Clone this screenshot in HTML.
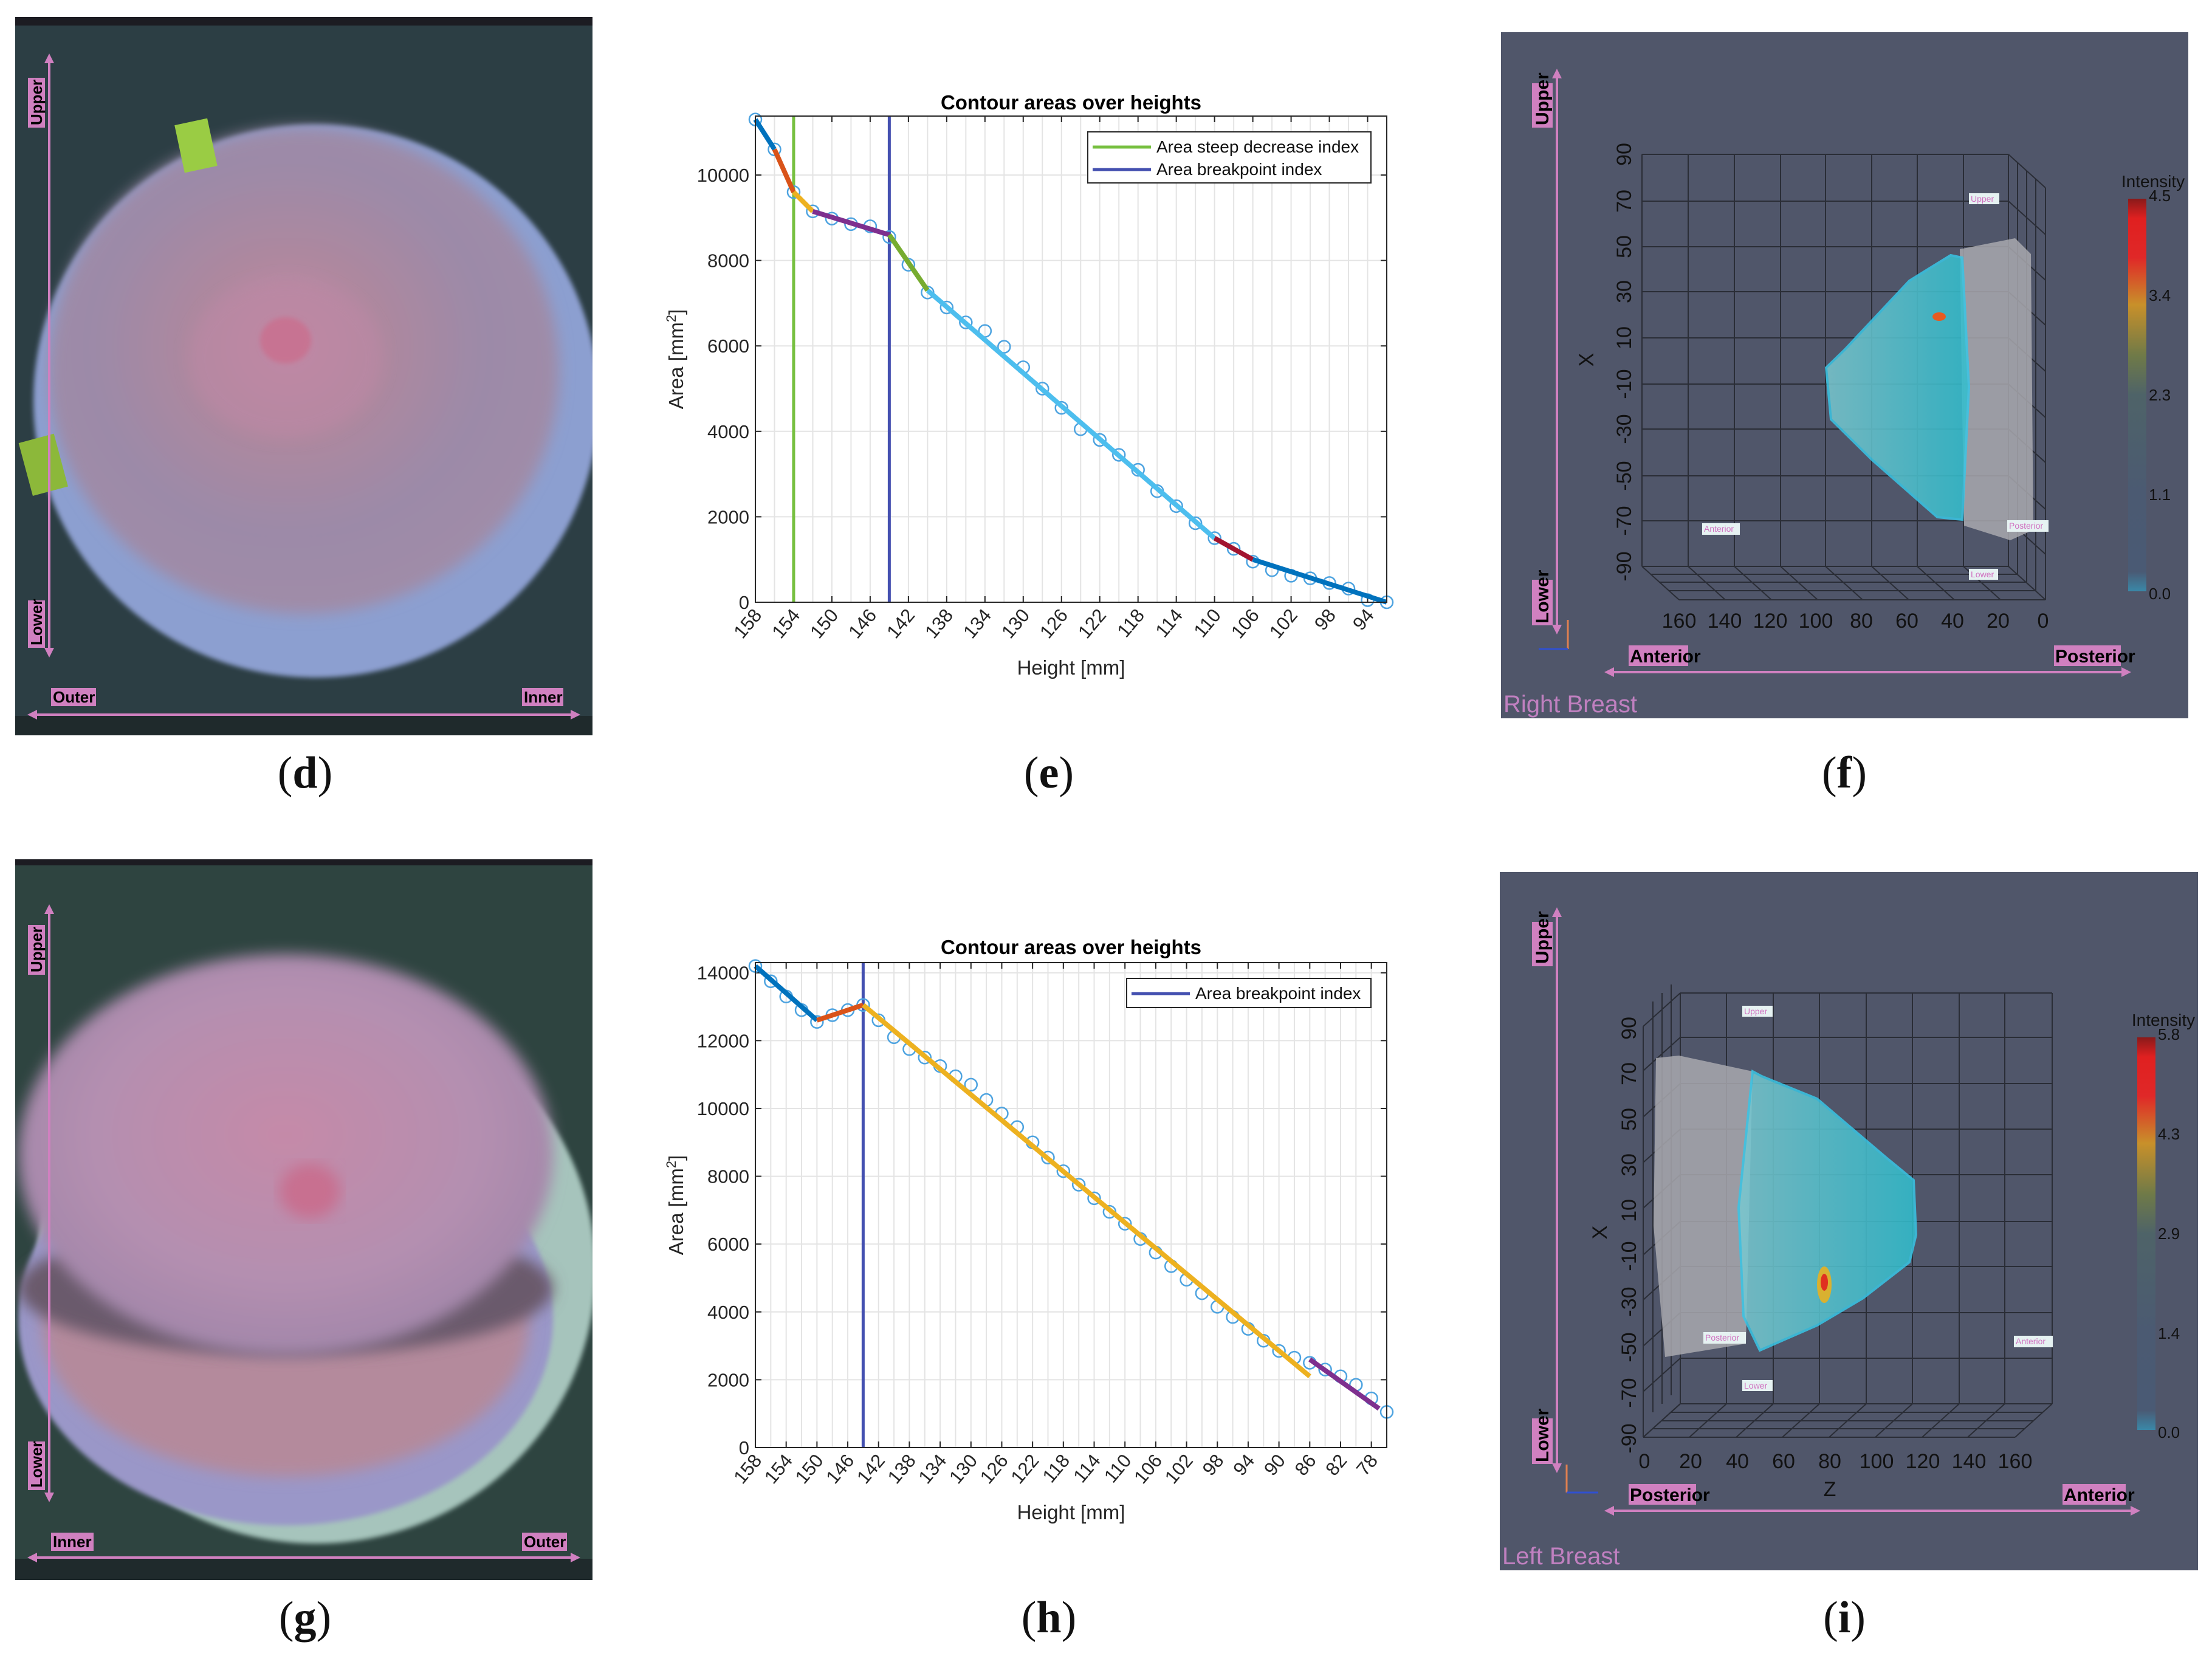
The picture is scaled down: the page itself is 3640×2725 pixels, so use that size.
<!DOCTYPE html>
<html><head><meta charset="utf-8"><style>
html,body{margin:0;padding:0;background:#fff;}
svg{display:block;font-family:"Liberation Sans",sans-serif;}
</style></head><body>
<svg id="root" width="3640" height="2725" viewBox="0 0 3640 2725" xmlns="http://www.w3.org/2000/svg">
<defs>
<radialGradient id="gD" cx="0.47" cy="0.45" r="0.55"><stop offset="0" stop-color="#c98aa6"/><stop offset="0.35" stop-color="#ad889f"/><stop offset="0.7" stop-color="#9c8aa8"/><stop offset="1" stop-color="#a08ca8"/></radialGradient>
<radialGradient id="gG" cx="0.5" cy="0.45" r="0.6"><stop offset="0" stop-color="#c58aa8"/><stop offset="0.6" stop-color="#b48fb0"/><stop offset="1" stop-color="#9d84a8"/></radialGradient>
<linearGradient id="cb" x1="0" y1="0" x2="0" y2="1"><stop offset="0" stop-color="#8a1a1a"/><stop offset="0.05" stop-color="#e02020"/><stop offset="0.15" stop-color="#e02828"/><stop offset="0.27" stop-color="#c8902a"/><stop offset="0.4" stop-color="#6f7a48"/><stop offset="0.5" stop-color="#4e6368"/><stop offset="0.75" stop-color="#4b5a72"/><stop offset="0.95" stop-color="#4a5a74"/><stop offset="1" stop-color="#3a88a8"/></linearGradient>
<linearGradient id="cy" x1="0" y1="0" x2="1" y2="0"><stop offset="0" stop-color="#7ac8d0"/><stop offset="1" stop-color="#30c0d0"/></linearGradient>
<filter id="bl"><feGaussianBlur stdDeviation="12"/></filter>
<filter id="bl2"><feGaussianBlur stdDeviation="4"/></filter>
<clipPath id="clipD"><rect x="25" y="28" width="950" height="1182"/></clipPath>
<clipPath id="clipG"><rect x="25" y="1414" width="950" height="1186"/></clipPath>
</defs>

<!-- Panel d -->
<g clip-path="url(#clipD)">
<rect x="25" y="28" width="950" height="1182" fill="#2c3e44"/>
<rect x="25" y="28" width="950" height="14" fill="#1c1c22"/>
<rect x="25" y="1178" width="950" height="32" fill="#1f2a2c"/>
<ellipse cx="520" cy="660" rx="465" ry="455" fill="#8c9fd0" filter="url(#bl2)"/>
<ellipse cx="500" cy="610" rx="420" ry="400" fill="url(#gD)" filter="url(#bl)"/>
<ellipse cx="470" cy="590" rx="160" ry="130" fill="#bb88a4" opacity="0.6" filter="url(#bl)"/>
<ellipse cx="470" cy="560" rx="42" ry="38" fill="#c77392" filter="url(#bl2)"/>
<rect x="295" y="200" width="55" height="80" fill="#9acc44" transform="rotate(-12 320 240)"/>
<rect x="40" y="720" width="60" height="90" fill="#8cb83a" transform="rotate(-15 70 760)"/>
</g>
<g font-weight="bold" font-size="26">
<line x1="81" y1="100" x2="81" y2="1070" stroke="#d080c0" stroke-width="4"/>
<polygon points="81,88 73,104 89,104" fill="#d080c0"/><polygon points="81,1082 73,1066 89,1066" fill="#d080c0"/>
<line x1="55" y1="1176" x2="945" y2="1176" stroke="#d080c0" stroke-width="4"/>
<polygon points="45,1176 61,1168 61,1184" fill="#d080c0"/><polygon points="955,1176 939,1168 939,1184" fill="#d080c0"/>
<rect x="46" y="128" width="28" height="82" fill="#d080c0"/><text transform="translate(69 206) rotate(-90)">Upper</text>
<rect x="46" y="988" width="28" height="78" fill="#d080c0"/><text transform="translate(69 1062) rotate(-90)">Lower</text>
<rect x="84" y="1132" width="74" height="30" fill="#d080c0"/><text x="87" y="1156">Outer</text>
<rect x="859" y="1132" width="68" height="30" fill="#d080c0"/><text x="862" y="1156">Inner</text>
</g>

<!-- Panel g -->
<g clip-path="url(#clipG)">
<rect x="25" y="1414" width="950" height="1186" fill="#2e4440"/>
<rect x="25" y="1414" width="950" height="10" fill="#1c1c22"/>
<rect x="25" y="2565" width="950" height="35" fill="#1f2a2c"/>
<ellipse cx="520" cy="2090" rx="460" ry="450" fill="#a6c4bc" filter="url(#bl2)"/>
<ellipse cx="470" cy="2170" rx="440" ry="340" fill="#9a97c8" filter="url(#bl2)"/>
<ellipse cx="470" cy="2180" rx="400" ry="250" fill="#b48a9c" filter="url(#bl)"/>
<ellipse cx="470" cy="2120" rx="440" ry="110" fill="#6a5a6c" filter="url(#bl)"/>
<ellipse cx="470" cy="1900" rx="440" ry="330" fill="url(#gG)" filter="url(#bl)"/>
<ellipse cx="510" cy="1960" rx="50" ry="45" fill="#c87090" filter="url(#bl)"/>
</g>
<g font-weight="bold" font-size="26">
<line x1="81" y1="1500" x2="81" y2="2460" stroke="#d080c0" stroke-width="4"/>
<polygon points="81,1488 73,1504 89,1504" fill="#d080c0"/><polygon points="81,2472 73,2456 89,2456" fill="#d080c0"/>
<line x1="55" y1="2563" x2="945" y2="2563" stroke="#d080c0" stroke-width="4"/>
<polygon points="45,2563 61,2555 61,2571" fill="#d080c0"/><polygon points="955,2563 939,2555 939,2571" fill="#d080c0"/>
<rect x="46" y="1522" width="28" height="82" fill="#d080c0"/><text transform="translate(69 1600) rotate(-90)">Upper</text>
<rect x="46" y="2372" width="28" height="80" fill="#d080c0"/><text transform="translate(69 2448) rotate(-90)">Lower</text>
<rect x="84" y="2522" width="70" height="30" fill="#d080c0"/><text x="87" y="2546">Inner</text>
<rect x="859" y="2522" width="74" height="30" fill="#d080c0"/><text x="862" y="2546">Outer</text>
</g>

<!-- Panel f -->
<g>
<rect x="2470" y="53" width="1131" height="1129" fill="#50566a"/>
<g stroke="#2a2d36" stroke-width="2" fill="none">
<path d="M2702 254V932M2778 254V932M2854 254V932M2930 254V932M3004 254V932M3080 254V932M3155 254V932M3231 254V932M3305 254V932"/>
<path d="M2702 254H3305M2702 331H3305M2702 406H3305M2702 480H3305M2702 556H3305M2702 632H3305M2702 706H3305M2702 783H3305M2702 857H3305M2702 932H3305"/>
<path d="M3305 254L3366 309M3305 331L3366 386M3305 406L3366 461M3305 480L3366 535M3305 556L3366 611M3305 632L3366 687M3305 706L3366 761M3305 783L3366 838M3305 857L3366 912M3305 932L3366 987M3366 309V987M3320 268V946M3335 281V960M3350 295V973"/>
<path d="M2702 932L2763 987M2778 932L2839 987M2854 932L2915 987M2930 932L2991 987M3004 932L3065 987M3080 932L3141 987M3155 932L3216 987M3231 932L3292 987M2763 987H3366M2716 945H3319M2730 958H3333M2745 972H3348"/>
</g>
<polygon points="3225,410 3316,392 3342,418 3346,872 3308,889 3232,865" fill="#a8a8ae" opacity="0.85"/>
<polygon points="3005,605 3036,575 3142,462 3210,420 3229,424 3240,637 3229,855 3188,851 3081,757 3013,690" fill="url(#cy)" opacity="0.85" stroke="#39c6e6" stroke-width="4"/>
<ellipse cx="3191" cy="521" rx="11" ry="7" fill="#e85a20"/>
<g font-size="34" fill="#111">
<text x="2763" y="1033" text-anchor="middle">160</text><text x="2838" y="1033" text-anchor="middle">140</text><text x="2913" y="1033" text-anchor="middle">120</text><text x="2988" y="1033" text-anchor="middle">100</text><text x="3063" y="1033" text-anchor="middle">80</text><text x="3138" y="1033" text-anchor="middle">60</text><text x="3213" y="1033" text-anchor="middle">40</text><text x="3288" y="1033" text-anchor="middle">20</text><text x="3362" y="1033" text-anchor="middle">0</text>
<g text-anchor="middle">
<text transform="translate(2684 254) rotate(-90)">90</text><text transform="translate(2684 331) rotate(-90)">70</text><text transform="translate(2684 406) rotate(-90)">50</text><text transform="translate(2684 480) rotate(-90)">30</text><text transform="translate(2684 556) rotate(-90)">10</text><text transform="translate(2684 632) rotate(-90)">-10</text><text transform="translate(2684 706) rotate(-90)">-30</text><text transform="translate(2684 783) rotate(-90)">-50</text><text transform="translate(2684 857) rotate(-90)">-70</text><text transform="translate(2684 932) rotate(-90)">-90</text>
</g>
<text transform="translate(2622 592) rotate(-90)" text-anchor="middle">X</text>
</g>
<g font-size="14" fill="#d070c0">
<rect x="3240" y="318" width="50" height="18" fill="#e6f2f2"/><text x="3243" y="332">Upper</text>
<rect x="2801" y="861" width="62" height="19" fill="#e6f2f2"/><text x="2804" y="875">Anterior</text>
<rect x="3303" y="856" width="68" height="19" fill="#e6f2f2"/><text x="3306" y="870">Posterior</text>
<rect x="3240" y="936" width="48" height="18" fill="#e6f2f2"/><text x="3243" y="950">Lower</text>
</g>
<rect x="3502" y="327" width="30" height="646" fill="url(#cb)"/>
<g font-size="26" fill="#111"><text x="3543" y="308" text-anchor="middle" font-size="28">Intensity</text>
<text x="3536" y="331">4.5</text><text x="3536" y="495">3.4</text><text x="3536" y="659">2.3</text><text x="3536" y="823">1.1</text><text x="3536" y="986">0.0</text></g>
<g font-weight="bold" font-size="30">
<line x1="2562" y1="125" x2="2562" y2="1032" stroke="#d080c0" stroke-width="4"/>
<polygon points="2562,113 2554,129 2570,129" fill="#d080c0"/><polygon points="2562,1044 2554,1028 2570,1028" fill="#d080c0"/>
<rect x="2521" y="137" width="34" height="73" fill="#d080c0"/><text transform="translate(2548 206) rotate(-90)">Upper</text>
<rect x="2521" y="954" width="34" height="75" fill="#d080c0"/><text transform="translate(2548 1026) rotate(-90)">Lower</text>
<line x1="2652" y1="1106" x2="3495" y2="1106" stroke="#d080c0" stroke-width="4"/>
<polygon points="2640,1106 2656,1098 2656,1114" fill="#d080c0"/><polygon points="3507,1106 3491,1098 3491,1114" fill="#d080c0"/>
<rect x="2680" y="1062" width="98" height="34" fill="#d080c0"/><text x="2682" y="1090">Anterior</text>
<rect x="3380" y="1062" width="110" height="34" fill="#d080c0"/><text x="3382" y="1090">Posterior</text>
</g>
<g stroke-width="3"><line x1="2580" y1="1068" x2="2580" y2="1020" stroke="#e08050"/><line x1="2580" y1="1068" x2="2532" y2="1068" stroke="#3050d0"/></g>
<text x="2474" y="1172" font-size="40" fill="#c080c0">Right Breast</text>
</g>

<!-- Panel i -->
<g>
<rect x="2468" y="1435" width="1149" height="1149" fill="#50566a"/>
<g stroke="#2a2d36" stroke-width="2" fill="none">
<path d="M2765 1634V2310M2841 1634V2310M2918 1634V2310M2994 1634V2310M3071 1634V2310M3147 1634V2310M3224 1634V2310M3299 1634V2310M3377 1634V2310"/>
<path d="M2765 1634H3377M2765 1707H3377M2765 1783H3377M2765 1858H3377M2765 1933H3377M2765 2010H3377M2765 2084H3377M2765 2160H3377M2765 2235H3377M2765 2310H3377"/>
<path d="M2765 1634L2704 1689M2765 1707L2704 1762M2765 1783L2704 1838M2765 1858L2704 1913M2765 1933L2704 1988M2765 2010L2704 2065M2765 2084L2704 2139M2765 2160L2704 2215M2765 2235L2704 2290M2765 2310L2704 2365M2704 1689V2365M2750 1620V2296M2735 1634V2310M2720 1648V2324"/>
<path d="M2765 2310L2704 2365M2841 2310L2780 2365M2918 2310L2857 2365M2994 2310L2933 2365M3071 2310L3010 2365M3147 2310L3086 2365M3224 2310L3163 2365M3299 2310L3238 2365M3377 2310L3316 2365M2704 2365H3316M2750 2324H3362M2735 2338H3347M2720 2351H3332"/>
</g>
<polygon points="2725,1741 2763,1737 2884,1763 2873,2211 2740,2233 2721,2017" fill="#a8a8ae" opacity="0.85"/>
<polygon points="2884,1763 2899,1771 2990,1808 3104,1905 3149,1942 3153,2032 3142,2077 3066,2136 2990,2181 2896,2222 2869,2166 2861,1987" fill="url(#cy)" opacity="0.85" stroke="#39c6e6" stroke-width="4"/>
<ellipse cx="3002" cy="2114" rx="12" ry="30" fill="#e8b020" opacity="0.9"/>
<ellipse cx="3002" cy="2110" rx="6" ry="14" fill="#e03020"/>
<g font-size="34" fill="#111">
<text x="2706" y="2416" text-anchor="middle">0</text><text x="2782" y="2416" text-anchor="middle">20</text><text x="2859" y="2416" text-anchor="middle">40</text><text x="2935" y="2416" text-anchor="middle">60</text><text x="3011" y="2416" text-anchor="middle">80</text><text x="3088" y="2416" text-anchor="middle">100</text><text x="3164" y="2416" text-anchor="middle">120</text><text x="3240" y="2416" text-anchor="middle">140</text><text x="3316" y="2416" text-anchor="middle">160</text>
<g text-anchor="middle">
<text transform="translate(2692 1692) rotate(-90)">90</text><text transform="translate(2692 1767) rotate(-90)">70</text><text transform="translate(2692 1842) rotate(-90)">50</text><text transform="translate(2692 1917) rotate(-90)">30</text><text transform="translate(2692 1992) rotate(-90)">10</text><text transform="translate(2692 2067) rotate(-90)">-10</text><text transform="translate(2692 2142) rotate(-90)">-30</text><text transform="translate(2692 2217) rotate(-90)">-50</text><text transform="translate(2692 2292) rotate(-90)">-70</text><text transform="translate(2692 2367) rotate(-90)">-90</text>
</g>
<text transform="translate(2644 2028) rotate(-90)" text-anchor="middle">X</text>
<text x="3011" y="2462" text-anchor="middle">Z</text>
</g>
<g font-size="14" fill="#d070c0">
<rect x="2867" y="1655" width="50" height="18" fill="#e6f2f2"/><text x="2870" y="1669">Upper</text>
<rect x="2803" y="2192" width="70" height="19" fill="#e6f2f2"/><text x="2806" y="2206">Posterior</text>
<rect x="3314" y="2198" width="64" height="19" fill="#e6f2f2"/><text x="3317" y="2212">Anterior</text>
<rect x="2867" y="2271" width="50" height="18" fill="#e6f2f2"/><text x="2870" y="2285">Lower</text>
</g>
<rect x="3517" y="1707" width="30" height="646" fill="url(#cb)"/>
<g font-size="26" fill="#111"><text x="3560" y="1688" text-anchor="middle" font-size="28">Intensity</text>
<text x="3551" y="1711">5.8</text><text x="3551" y="1875">4.3</text><text x="3551" y="2039">2.9</text><text x="3551" y="2203">1.4</text><text x="3551" y="2366">0.0</text></g>
<g font-weight="bold" font-size="30">
<line x1="2562" y1="1505" x2="2562" y2="2412" stroke="#d080c0" stroke-width="4"/>
<polygon points="2562,1493 2554,1509 2570,1509" fill="#d080c0"/><polygon points="2562,2424 2554,2408 2570,2408" fill="#d080c0"/>
<rect x="2521" y="1517" width="34" height="73" fill="#d080c0"/><text transform="translate(2548 1586) rotate(-90)">Upper</text>
<rect x="2521" y="2334" width="34" height="75" fill="#d080c0"/><text transform="translate(2548 2406) rotate(-90)">Lower</text>
<line x1="2652" y1="2486" x2="3510" y2="2486" stroke="#d080c0" stroke-width="4"/>
<polygon points="2640,2486 2656,2478 2656,2494" fill="#d080c0"/><polygon points="3522,2486 3506,2478 3506,2494" fill="#d080c0"/>
<rect x="2680" y="2442" width="111" height="34" fill="#d080c0"/><text x="2682" y="2470">Posterior</text>
<rect x="3394" y="2442" width="104" height="34" fill="#d080c0"/><text x="3396" y="2470">Anterior</text>
</g>
<g stroke-width="3"><line x1="2578" y1="2456" x2="2578" y2="2410" stroke="#e08050"/><line x1="2578" y1="2456" x2="2630" y2="2456" stroke="#3050d0"/></g>
<text x="2472" y="2574" font-size="40" fill="#c080c0">Left Breast</text>
</g>

<!-- Captions -->
<g font-family="Liberation Serif, serif" font-size="74" text-anchor="middle" fill="#111">
<text x="502" y="1296">(<tspan font-weight="bold">d</tspan>)</text>
<text x="1726" y="1296">(<tspan font-weight="bold">e</tspan>)</text>
<text x="3035" y="1296">(<tspan font-weight="bold">f</tspan>)</text>
<text x="502" y="2686">(<tspan font-weight="bold">g</tspan>)</text>
<text x="1726" y="2686">(<tspan font-weight="bold">h</tspan>)</text>
<text x="3035" y="2686">(<tspan font-weight="bold">i</tspan>)</text>
</g>

<g id="chartE"></g>
<g id="chartH"></g>
</svg>
<script>
// ----- Chart (e) data -----
const eHeights = [158,156,154,152,150,148,146,144,142,140,138,136,134,132,130,128,126,124,122,120,118,116,114,112,110,108,106,104,102,100,98,96,94,92];
const eAreas = [11300,10600,9600,9150,8980,8850,8800,8550,7900,7250,6900,6550,6350,5980,5500,5000,4550,4050,3800,3450,3100,2600,2250,1850,1500,1250,950,750,620,560,450,320,50,0];
const eSegX0 = [158,156,154,152,144,140,110,106];
const eSegX1 = [156,154,152,144,140,110,106,92];
const eSegY0 = [11300,10600,9600,9150,8600,7300,1500,1000];
const eSegY1 = [10600,9600,9150,8600,7300,1500,1000,0];
const eSegColors = ['#0072BD','#D95319','#EDB120','#7E2F8E','#77AC30','#4DBEEE','#A2142F','#0072BD'];
const eXTicks = [158,154,150,146,142,138,134,130,126,122,118,114,110,106,102,98,94];
const eYTicks = [0,2000,4000,6000,8000,10000];
const eVLines = [154,144];
const eVLineColors = ['#77C040','#4450B0'];
const eLegendLabels = ['Area steep decrease index','Area breakpoint index'];
// ----- Chart (h) data -----
const hHeights = [158,156,154,152,150,148,146,144,142,140,138,136,134,132,130,128,126,124,122,120,118,116,114,112,110,108,106,104,102,100,98,96,94,92,90,88,86,84,82,80,78,76];
const hAreas = [14200,13750,13300,12900,12550,12750,12900,13050,12600,12100,11750,11500,11250,10950,10700,10250,9850,9450,9000,8550,8150,7750,7350,6950,6600,6150,5750,5350,4950,4550,4150,3850,3500,3150,2850,2650,2500,2300,2100,1850,1450,1050];
const hSegX0 = [158,150,144,86];
const hSegX1 = [150,144,86,77];
const hSegY0 = [14200,12600,13050,2600];
const hSegY1 = [12600,13050,2100,1150];
const hSegColors = ['#0072BD','#D95319','#EDB120','#7E2F8E'];
const hXTicks = [158,154,150,146,142,138,134,130,126,122,118,114,110,106,102,98,94,90,86,82,78];
const hYTicks = [0,2000,4000,6000,8000,10000,12000,14000];
const hVLines = [144];
const hVLineColors = ['#4450B0'];
const hLegendLabels = ['Area breakpoint index'];

const NS='http://www.w3.org/2000/svg';
function mk(parent,tag,attrs,text){const e=document.createElementNS(NS,tag);for(const k in attrs)e.setAttribute(k,attrs[k]);if(text!==undefined)e.textContent=text;parent.appendChild(e);return e;}

function drawChart(gid,c){
  const g=document.getElementById(gid);
  const L=1243,R=2282,T=c.top,B=c.bottom;
  const sx=v=>L+(c.xmax-v)/(c.xmax-c.xmin)*(R-L);
  const sy=v=>B-(v-0)/(c.ymax)*(B-T);
  for(let v=c.xmax; v>=c.xmin; v-=2){
    const ln=mk(g,'line',{x1:sx(v),x2:sx(v),y1:T,y2:B,stroke:'#e4e4e4','stroke-width':2});
    
    
  }
  c.yTicks.forEach(v=>{
    const ln=mk(g,'line',{x1:L,x2:R,y1:sy(v),y2:sy(v),stroke:'#e4e4e4','stroke-width':2});
    
    
    const tk=mk(g,'text',{x:L-10,y:sy(v)+11,'text-anchor':'end','font-size':31,fill:'#262626'},String(v));
    
    
    mk(g,'line',{x1:L,x2:L+10,y1:sy(v),y2:sy(v),stroke:'#262626','stroke-width':2});
    mk(g,'line',{x1:R,x2:R-10,y1:sy(v),y2:sy(v),stroke:'#262626','stroke-width':2});
  });
  c.xTicks.forEach(v=>{
    const x=sx(v);
    mk(g,'line',{x1:x,x2:x,y1:B,y2:B-10,stroke:'#262626','stroke-width':2});
    mk(g,'line',{x1:x,x2:x,y1:T,y2:T+10,stroke:'#262626','stroke-width':2});
    const tk=mk(g,'text',{transform:`translate(${x+12} ${B+22}) rotate(-50)`,'text-anchor':'end','font-size':31,fill:'#262626'},String(v));
    
    
  });
  c.vLines.forEach((v,i)=>{
    const ln=mk(g,'line',{x1:sx(v),x2:sx(v),y1:T,y2:B,stroke:c.vColors[i],'stroke-width':5});
    
    
  });
  c.xs.forEach((v,i)=>{
    const m=mk(g,'circle',{cx:sx(v),cy:sy(c.ys[i]),r:10,fill:'none',stroke:'#4DA3E0','stroke-width':2.5});
    
    
  });
  c.sx0.forEach((v,i)=>{
    const s=mk(g,'line',{x1:sx(v),y1:sy(c.sy0[i]),x2:sx(c.sx1[i]),y2:sy(c.sy1[i]),stroke:c.sc[i],'stroke-width':8});
    
    
  });
  const box=mk(g,'rect',{x:L,y:T,width:R-L,height:B-T,fill:'none',stroke:'#262626','stroke-width':2});
  
  
  const tt=mk(g,'text',{x:(L+R)/2,y:c.titleY,'text-anchor':'middle','font-size':33,'font-weight':'bold',fill:'#000'},'Contour areas over heights');
  
  
  const xl=mk(g,'text',{x:(L+R)/2,y:c.xlabY,'text-anchor':'middle','font-size':33,fill:'#262626'},'Height [mm]');
  
  
  const yl=mk(g,'text',{transform:`translate(1124 ${(T+B)/2}) rotate(-90)`,'text-anchor':'middle','font-size':33,fill:'#262626'});
  
  
  yl.appendChild(document.createTextNode('Area [mm'));
  mk(yl,'tspan',{dy:-12,'font-size':22},'2');
  mk(yl,'tspan',{dy:12},']');
  const lg=mk(g,'g',{});
  
  
  mk(lg,'rect',{x:c.legX,y:c.legY,width:2256-c.legX,height:c.legH,fill:'#fff',stroke:'#262626','stroke-width':2});
  c.legLabels.forEach((t,i)=>{
    const y=c.legY+25+i*37;
    const col=c.legColors[i];
    mk(lg,'line',{x1:c.legX+8,x2:c.legX+104,y1:y,y2:y,stroke:col,'stroke-width':5});
    const tx=mk(lg,'text',{x:c.legX+113,y:y+9,'font-size':28,fill:'#111'},t);
    
    
  });
}
drawChart('chartE',{top:191,bottom:991,xmin:92,xmax:158,ymax:11380,xs:eHeights,ys:eAreas,sx0:eSegX0,sx1:eSegX1,sy0:eSegY0,sy1:eSegY1,sc:eSegColors,xTicks:eXTicks,yTicks:eYTicks,vLines:eVLines,vColors:eVLineColors,titleY:180,xlabY:1110,legX:1790,legY:217,legH:84,legLabels:eLegendLabels,legColors:eVLineColors});
drawChart('chartH',{top:1584,bottom:2382,xmin:76,xmax:158,ymax:14300,xs:hHeights,ys:hAreas,sx0:hSegX0,sx1:hSegX1,sy0:hSegY0,sy1:hSegY1,sc:hSegColors,xTicks:hXTicks,yTicks:hYTicks,vLines:hVLines,vColors:hVLineColors,titleY:1570,xlabY:2500,legX:1854,legY:1610,legH:48,legLabels:hLegendLabels,legColors:hVLineColors});
</script>
</body></html>
